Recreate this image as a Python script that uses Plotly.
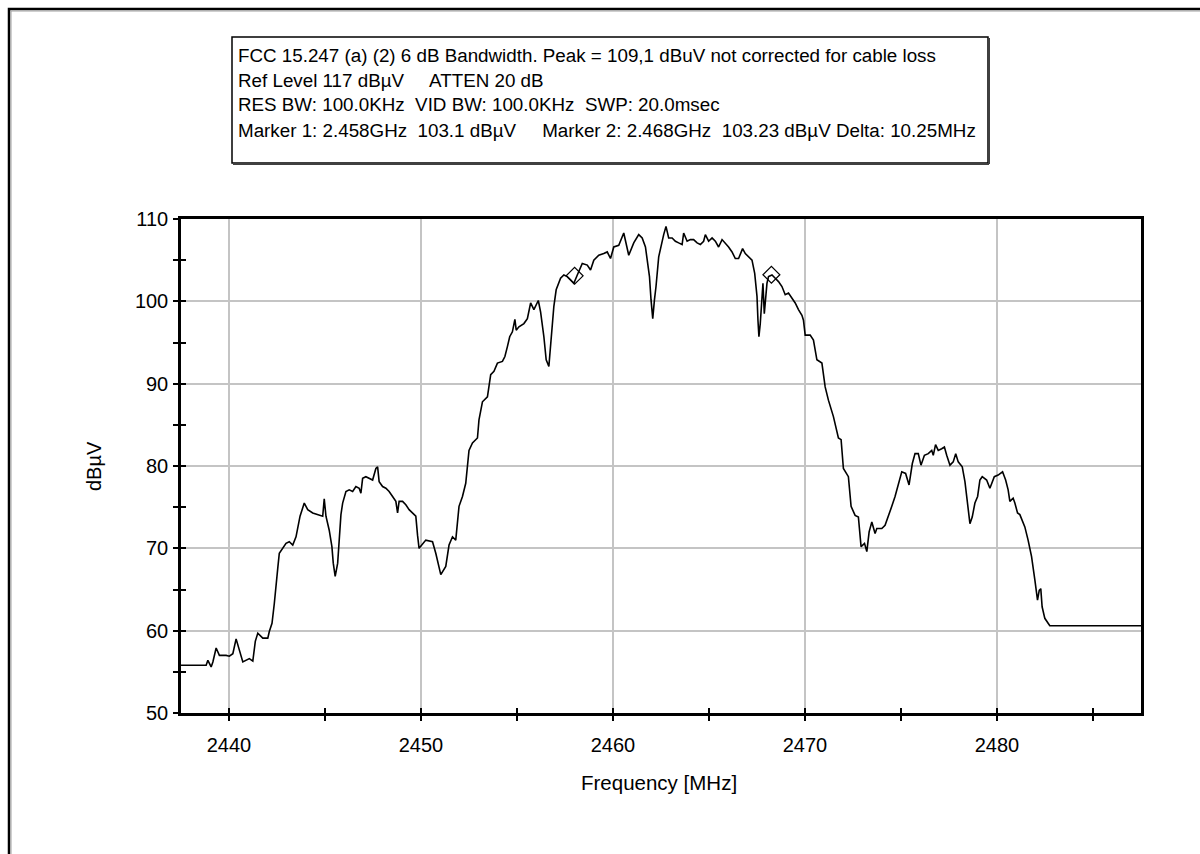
import plotly.graph_objects as go

# ---------------- data ----------------
freq_mhz = [
    2437.50, 2438.81, 2438.90, 2439.07, 2439.16, 2439.33, 2439.50, 2439.85, 2440.02, 2440.20,
    2440.37, 2440.54, 2440.72, 2441.06, 2441.24, 2441.37, 2441.50, 2441.76, 2442.02, 2442.10,
    2442.24, 2442.36, 2442.45, 2442.54, 2442.62, 2442.80, 2442.97, 2443.14, 2443.32, 2443.49,
    2443.58, 2443.70, 2443.92, 2444.10, 2444.36, 2444.70, 2444.88, 2444.96, 2445.05, 2445.22,
    2445.36, 2445.43, 2445.53, 2445.66, 2445.74, 2445.83, 2445.92, 2446.09, 2446.26, 2446.44,
    2446.61, 2446.78, 2446.87, 2446.96, 2447.13, 2447.30, 2447.48, 2447.65, 2447.74, 2447.82,
    2448.00, 2448.17, 2448.34, 2448.52, 2448.69, 2448.78, 2448.86, 2449.04, 2449.21, 2449.38,
    2449.56, 2449.73, 2449.82, 2449.90,
    2450.25, 2450.60, 2450.77, 2451.03, 2451.29, 2451.46, 2451.64, 2451.81, 2451.98, 2452.16,
    2452.33, 2452.50, 2452.68, 2452.94, 2453.02, 2453.20, 2453.46, 2453.63, 2453.80, 2453.98,
    2454.24, 2454.37, 2454.50, 2454.62, 2454.76, 2454.89, 2454.96, 2455.10, 2455.36, 2455.54,
    2455.71, 2455.88, 2456.11, 2456.23, 2456.40, 2456.52, 2456.66, 2456.80, 2456.92, 2457.04,
    2457.27, 2457.44, 2457.62, 2457.79, 2457.96, 2458.14, 2458.40, 2458.66, 2458.83, 2459.00,
    2459.26, 2459.52, 2459.70, 2459.87, 2460.04, 2460.30, 2460.56, 2460.82, 2461.08, 2461.34,
    2461.52, 2461.69, 2461.78, 2461.90, 2461.98, 2462.07, 2462.16, 2462.24, 2462.38, 2462.52,
    2462.64, 2462.76, 2462.90, 2463.08, 2463.25, 2463.42, 2463.60, 2463.68, 2463.86, 2464.03,
    2464.20, 2464.38, 2464.55, 2464.72, 2464.81, 2464.98, 2465.16, 2465.33, 2465.50, 2465.68,
    2465.85, 2466.02, 2466.20, 2466.37, 2466.54, 2466.75, 2466.89, 2467.06, 2467.24, 2467.38,
    2467.50, 2467.55, 2467.60, 2467.67, 2467.76, 2467.81, 2467.88, 2467.93, 2468.02, 2468.10,
    2468.28, 2468.45, 2468.62, 2468.80, 2468.97, 2469.14, 2469.32, 2469.49, 2469.66, 2469.84,
    2469.92, 2470.01, 2470.27, 2470.44, 2470.62, 2470.88, 2471.05, 2471.22, 2471.48, 2471.66,
    2471.74, 2471.88, 2472.00, 2472.26, 2472.40, 2472.61, 2472.78, 2472.92, 2473.10, 2473.22,
    2473.34, 2473.48, 2473.65, 2473.74, 2474.00, 2474.17, 2474.34, 2474.52, 2474.69, 2474.86,
    2475.04, 2475.24, 2475.42, 2475.59, 2475.73, 2475.90, 2476.04, 2476.22, 2476.42, 2476.60,
    2476.68, 2476.80, 2476.94, 2477.12, 2477.26, 2477.38, 2477.55, 2477.72, 2477.85, 2477.98,
    2478.19, 2478.33, 2478.45, 2478.59, 2478.71, 2478.85, 2478.99, 2479.11, 2479.23, 2479.46,
    2479.63, 2479.86, 2480.06, 2480.29, 2480.45, 2480.58, 2480.67, 2480.84, 2480.93, 2481.07,
    2481.19, 2481.31, 2481.45, 2481.62, 2481.80, 2481.97, 2482.11, 2482.20, 2482.28, 2482.35,
    2482.49, 2482.75, 2487.50,
]
level_dbuv = [
    55.8, 55.8, 56.4, 55.6, 56.2, 57.9, 57.0, 57.0, 56.9, 57.2,
    59.0, 57.7, 56.2, 56.6, 56.3, 58.7, 59.7, 59.1, 59.1, 59.9,
    60.9, 63.3, 65.8, 67.6, 69.4, 70.0, 70.6, 70.8, 70.4, 71.4,
    72.6, 73.9, 75.5, 74.7, 74.3, 74.1, 73.9, 76.0, 73.9, 72.2,
    70.2, 68.2, 66.6, 68.2, 71.6, 74.1, 75.5, 76.9, 77.1, 76.9,
    77.5, 77.3, 76.7, 78.5, 78.7, 78.5, 78.3, 79.7, 79.9, 78.1,
    77.5, 77.3, 76.9, 76.3, 75.7, 74.3, 75.7, 75.7, 75.3, 74.7,
    74.3, 73.9, 71.6, 70.0,
    71.0, 70.8, 69.4, 66.8, 67.8, 70.4, 71.4, 71.0, 75.1, 76.3,
    77.9, 81.9, 82.8, 83.4, 85.6, 87.8, 88.4, 91.1, 91.5, 92.5,
    92.7, 93.3, 94.5, 95.7, 96.3, 97.8, 96.5, 96.9, 97.3, 97.9,
    99.8, 99.0, 100.1, 98.7, 95.7, 92.9, 92.1, 96.1, 99.4, 101.4,
    102.8, 103.2, 103.0, 102.6, 102.2, 103.2, 104.6, 104.4, 103.8, 105.0,
    105.6, 105.8, 106.0, 105.2, 106.6, 106.8, 108.3, 105.6, 107.1, 108.1,
    107.7, 106.6, 105.0, 103.0, 100.2, 97.9, 100.2, 101.8, 105.4, 107.1,
    108.1, 109.1, 107.7, 107.7, 107.3, 107.1, 106.9, 108.3, 107.3, 107.5,
    107.5, 107.1, 106.9, 107.3, 108.1, 107.3, 107.7, 107.3, 106.6, 107.5,
    107.1, 106.6, 106.0, 105.2, 105.2, 106.4, 105.8, 105.4, 105.0, 103.4,
    100.6, 97.7, 95.7, 97.3, 100.2, 102.2, 98.5, 100.2, 102.2, 103.0,
    103.2, 102.8, 102.4, 101.8, 100.8, 101.0, 100.4, 99.8, 99.0, 98.3,
    97.7, 95.9, 95.9, 95.3, 92.9, 92.5, 89.6, 88.0, 86.0, 84.0,
    83.4, 83.2, 79.7, 78.7, 75.1, 74.0, 73.8, 70.2, 70.6, 69.6,
    72.0, 73.2, 71.8, 72.4, 72.4, 72.8, 73.8, 75.1, 76.3, 77.9,
    79.3, 79.1, 77.7, 80.3, 81.5, 81.5, 80.1, 81.3, 81.5, 81.9,
    81.3, 82.6, 81.9, 82.1, 82.3, 81.3, 80.1, 80.5, 81.5, 80.5,
    79.9, 78.1, 75.9, 73.0, 73.8, 75.5, 76.3, 78.3, 78.7, 78.3,
    77.3, 78.7, 78.9, 79.3, 78.3, 77.1, 75.7, 76.1, 75.5, 74.3,
    74.1, 73.5, 72.6, 71.0, 69.0, 66.2, 63.7, 64.9, 65.1, 62.9,
    61.5, 60.6, 60.6,
]

marker_freq = [2458.0, 2468.25]
marker_level = [103.1, 103.23]

x_range = [2437.5, 2487.5]
y_range = [50, 110]
x_tick_vals = [2440, 2450, 2460, 2470, 2480]
y_tick_vals = [50, 60, 70, 80, 90, 100, 110]

info_lines = [
    "FCC 15.247 (a) (2) 6 dB Bandwidth. Peak = 109,1 dBuV not corrected for cable loss",
    "Ref Level 117 dBµV     ATTEN 20 dB",
    "RES BW: 100.0KHz  VID BW: 100.0KHz  SWP: 20.0msec",
    "Marker 1: 2.458GHz  103.1 dBµV     Marker 2: 2.468GHz  103.23 dBµV Delta: 10.25MHz",
]

# ---------------- layout geometry (pixels) ----------------
W, H = 1200, 854
L, R, T, B = 181, 59, 219, 141
PW, PH = W - L - R, H - T - B


def px(xp):
    return (xp - L) / PW


def py(yp):
    return (H - B - yp) / PH


FONT = "Liberation Sans, Arial, sans-serif"

fig = go.Figure()
fig.add_trace(go.Scatter(
    x=freq_mhz, y=level_dbuv, mode="lines",
    line=dict(color="black", width=1.6), hoverinfo="skip", showlegend=False,
))
fig.add_trace(go.Scatter(
    x=marker_freq, y=marker_level, mode="markers", xaxis="x2", yaxis="y2",
    marker=dict(symbol="diamond-open", size=13, color="black", line=dict(width=1.2)),
    hoverinfo="skip", showlegend=False,
))

axis_common = dict(
    showline=True, linecolor="black", linewidth=2.5, mirror=True,
    ticks="outside", ticklen=5, tickwidth=2, tickcolor="black",
    showgrid=True, gridcolor="#c4c4c4", gridwidth=1.5,
    zeroline=False, tickfont=dict(family=FONT, size=20, color="black"),
)

fig.update_layout(
    width=W, height=H,
    margin=dict(l=L, r=R, t=T, b=B, pad=0),
    paper_bgcolor="white", plot_bgcolor="white",
    showlegend=False,
    xaxis=dict(range=x_range, tickvals=x_tick_vals, ticklabelstandoff=7,
               minor=dict(dtick=5, tick0=2435, ticks="outside", ticklen=5, tickwidth=2,
                          tickcolor="black", showgrid=False),
               **axis_common),
    yaxis=dict(range=y_range, tickvals=y_tick_vals, ticklabelstandoff=1,
               minor=dict(dtick=5, tick0=50, ticks="outside", ticklen=5, tickwidth=2,
                          tickcolor="black", showgrid=False),
               **axis_common),
    xaxis2=dict(range=x_range, overlaying="x", anchor="y2", dtick=5, tick0=2435,
                ticks="inside", ticklen=5, tickwidth=2, tickcolor="black",
                showticklabels=False, showgrid=False, zeroline=False, showline=False),
    yaxis2=dict(range=y_range, overlaying="y", anchor="x2", dtick=5, tick0=50,
                ticks="inside", ticklen=5, tickwidth=2, tickcolor="black",
                showticklabels=False, showgrid=False, zeroline=False, showline=False),
)

# axis titles
fig.add_annotation(text="Frequency [MHz]", xref="paper", yref="paper",
                   x=px(659), y=py(782), xanchor="center", yanchor="middle", showarrow=False,
                   font=dict(family=FONT, size=20.5, color="black"))
fig.add_annotation(text="dBµV", xref="paper", yref="paper", textangle=-90,
                   x=px(94), y=0.5, xanchor="center", yanchor="middle", showarrow=False,
                   font=dict(family=FONT, size=20, color="black"))

# outer frame
fig.add_shape(type="rect", xref="paper", yref="paper",
              x0=px(9), x1=px(1300), y0=py(9), y1=py(950),
              line=dict(color="black", width=2.5), fillcolor="rgba(0,0,0,0)", layer="above")
fig.add_shape(type="rect", xref="paper", yref="paper",
              x0=px(11), x1=px(1300), y0=py(11), y1=py(950),
              line=dict(color="#a0a0a0", width=1), fillcolor="rgba(0,0,0,0)", layer="above")

# info box
bx0, bx1, by0, by1 = 232, 988, 37, 163
fig.add_shape(type="rect", xref="paper", yref="paper",
              x0=px(bx0), x1=px(bx1), y0=py(by1), y1=py(by0),
              line=dict(color="black", width=1.5), fillcolor="white", layer="above")
fig.add_shape(type="line", xref="paper", yref="paper",
              x0=px(bx0 + 1), x1=px(bx1 + 1), y0=py(by1 + 1), y1=py(by1 + 1),
              line=dict(color="#404040", width=2), layer="above")
fig.add_shape(type="line", xref="paper", yref="paper",
              x0=px(bx1 + 1), x1=px(bx1 + 1), y0=py(by0 + 1), y1=py(by1 + 1),
              line=dict(color="#404040", width=2), layer="above")

for i, line in enumerate(info_lines):
    fig.add_annotation(text=line, xref="paper", yref="paper",
                       x=px(236), y=py(55 + 25 * i), xanchor="left", yanchor="middle",
                       showarrow=False, font=dict(family=FONT, size=18.8, color="black"))

fig.write_html("out.html")
